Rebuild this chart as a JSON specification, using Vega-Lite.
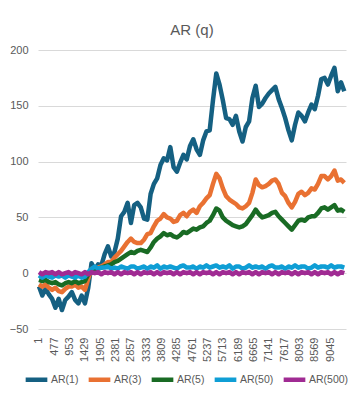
{
  "$schema": "https://vega.github.io/schema/vega-lite/v6.json",
  "autosize": "none",
  "width": 308,
  "height": 279,
  "padding": {"left": 38, "top": 50, "right": 14, "bottom": 72},
  "background": "white",
  "title": {"text": "AR (q)", "frame": "group", "anchor": "middle", "fontSize": 15, "font": "Liberation Sans", "fontWeight": "normal", "color": "#595959", "offset": 6},
  "data": {"values": [
    {"i":1,"AR(1)":-12,"AR(3)":-10,"AR(5)":-6,"AR(50)":-2,"AR(500)":1},
    {"i":103,"AR(1)":-20,"AR(3)":-12,"AR(5)":-7,"AR(50)":-4,"AR(500)":-1},
    {"i":205,"AR(1)":-14,"AR(3)":-10,"AR(5)":-6,"AR(50)":-2,"AR(500)":1},
    {"i":307,"AR(1)":-19,"AR(3)":-13,"AR(5)":-8,"AR(50)":-3,"AR(500)":0},
    {"i":409,"AR(1)":-23,"AR(3)":-15,"AR(5)":-9,"AR(50)":-4,"AR(500)":1},
    {"i":511,"AR(1)":-31,"AR(3)":-13,"AR(5)":-8,"AR(50)":-2,"AR(500)":-1},
    {"i":613,"AR(1)":-23,"AR(3)":-16,"AR(5)":-10,"AR(50)":-3,"AR(500)":1},
    {"i":715,"AR(1)":-33,"AR(3)":-17,"AR(5)":-11,"AR(50)":-2,"AR(500)":-1},
    {"i":817,"AR(1)":-24,"AR(3)":-14,"AR(5)":-9,"AR(50)":-4,"AR(500)":0},
    {"i":919,"AR(1)":-21,"AR(3)":-12,"AR(5)":-8,"AR(50)":-2,"AR(500)":1},
    {"i":1021,"AR(1)":-17,"AR(3)":-12,"AR(5)":-9,"AR(50)":-3,"AR(500)":-1},
    {"i":1123,"AR(1)":-24,"AR(3)":-10,"AR(5)":-7,"AR(50)":-4,"AR(500)":1},
    {"i":1225,"AR(1)":-27,"AR(3)":-13,"AR(5)":-9,"AR(50)":-2,"AR(500)":0},
    {"i":1327,"AR(1)":-20,"AR(3)":-12,"AR(5)":-8,"AR(50)":-4,"AR(500)":-1},
    {"i":1429,"AR(1)":-27,"AR(3)":-15,"AR(5)":-7,"AR(50)":-3,"AR(500)":1},
    {"i":1531,"AR(1)":-13,"AR(3)":-5,"AR(5)":-1,"AR(50)":1,"AR(500)":-1},
    {"i":1633,"AR(1)":9,"AR(3)":4,"AR(5)":2,"AR(50)":4,"AR(500)":1},
    {"i":1735,"AR(1)":3,"AR(3)":3,"AR(5)":3,"AR(50)":6,"AR(500)":0},
    {"i":1837,"AR(1)":8,"AR(3)":5,"AR(5)":4,"AR(50)":4,"AR(500)":1},
    {"i":1939,"AR(1)":7,"AR(3)":6,"AR(5)":5,"AR(50)":5,"AR(500)":-1},
    {"i":2041,"AR(1)":17,"AR(3)":8,"AR(5)":6,"AR(50)":5,"AR(500)":1},
    {"i":2143,"AR(1)":24,"AR(3)":10,"AR(5)":7,"AR(50)":6,"AR(500)":0},
    {"i":2245,"AR(1)":15,"AR(3)":10,"AR(5)":8,"AR(50)":4,"AR(500)":1},
    {"i":2347,"AR(1)":19,"AR(3)":14,"AR(5)":10,"AR(50)":5,"AR(500)":-1},
    {"i":2449,"AR(1)":31,"AR(3)":17,"AR(5)":11,"AR(50)":4,"AR(500)":1},
    {"i":2551,"AR(1)":51,"AR(3)":20,"AR(5)":13,"AR(50)":6,"AR(500)":-1},
    {"i":2653,"AR(1)":55,"AR(3)":24,"AR(5)":15,"AR(50)":5,"AR(500)":1},
    {"i":2755,"AR(1)":63,"AR(3)":28,"AR(5)":17,"AR(50)":4,"AR(500)":0},
    {"i":2857,"AR(1)":45,"AR(3)":31,"AR(5)":19,"AR(50)":6,"AR(500)":1},
    {"i":2959,"AR(1)":61,"AR(3)":28,"AR(5)":18,"AR(50)":6,"AR(500)":-1},
    {"i":3061,"AR(1)":63,"AR(3)":27,"AR(5)":20,"AR(50)":4,"AR(500)":1},
    {"i":3163,"AR(1)":59,"AR(3)":27,"AR(5)":21,"AR(50)":5,"AR(500)":-1},
    {"i":3265,"AR(1)":49,"AR(3)":30,"AR(5)":20,"AR(50)":6,"AR(500)":1},
    {"i":3367,"AR(1)":48,"AR(3)":35,"AR(5)":19,"AR(50)":4,"AR(500)":0},
    {"i":3469,"AR(1)":71,"AR(3)":36,"AR(5)":23,"AR(50)":6,"AR(500)":1},
    {"i":3571,"AR(1)":80,"AR(3)":42,"AR(5)":28,"AR(50)":5,"AR(500)":-1},
    {"i":3673,"AR(1)":85,"AR(3)":47,"AR(5)":31,"AR(50)":7,"AR(500)":1},
    {"i":3775,"AR(1)":97,"AR(3)":49,"AR(5)":33,"AR(50)":4,"AR(500)":-1},
    {"i":3877,"AR(1)":103,"AR(3)":53,"AR(5)":36,"AR(50)":6,"AR(500)":1},
    {"i":3979,"AR(1)":101,"AR(3)":50,"AR(5)":34,"AR(50)":5,"AR(500)":0},
    {"i":4081,"AR(1)":113,"AR(3)":49,"AR(5)":35,"AR(50)":6,"AR(500)":1},
    {"i":4183,"AR(1)":95,"AR(3)":46,"AR(5)":33,"AR(50)":5,"AR(500)":-1},
    {"i":4285,"AR(1)":91,"AR(3)":47,"AR(5)":32,"AR(50)":4,"AR(500)":1},
    {"i":4387,"AR(1)":99,"AR(3)":52,"AR(5)":34,"AR(50)":6,"AR(500)":-1},
    {"i":4489,"AR(1)":106,"AR(3)":54,"AR(5)":37,"AR(50)":7,"AR(500)":1},
    {"i":4591,"AR(1)":102,"AR(3)":51,"AR(5)":36,"AR(50)":5,"AR(500)":0},
    {"i":4693,"AR(1)":114,"AR(3)":55,"AR(5)":38,"AR(50)":5,"AR(500)":1},
    {"i":4795,"AR(1)":120,"AR(3)":57,"AR(5)":40,"AR(50)":6,"AR(500)":-1},
    {"i":4897,"AR(1)":111,"AR(3)":54,"AR(5)":39,"AR(50)":4,"AR(500)":1},
    {"i":4999,"AR(1)":106,"AR(3)":60,"AR(5)":41,"AR(50)":6,"AR(500)":-1},
    {"i":5101,"AR(1)":119,"AR(3)":63,"AR(5)":42,"AR(50)":5,"AR(500)":1},
    {"i":5203,"AR(1)":127,"AR(3)":67,"AR(5)":45,"AR(50)":7,"AR(500)":0},
    {"i":5305,"AR(1)":128,"AR(3)":70,"AR(5)":47,"AR(50)":5,"AR(500)":1},
    {"i":5407,"AR(1)":155,"AR(3)":80,"AR(5)":52,"AR(50)":6,"AR(500)":-1},
    {"i":5509,"AR(1)":179,"AR(3)":89,"AR(5)":58,"AR(50)":7,"AR(500)":1},
    {"i":5611,"AR(1)":169,"AR(3)":85,"AR(5)":56,"AR(50)":5,"AR(500)":-1},
    {"i":5713,"AR(1)":155,"AR(3)":76,"AR(5)":50,"AR(50)":6,"AR(500)":1},
    {"i":5815,"AR(1)":139,"AR(3)":69,"AR(5)":47,"AR(50)":5,"AR(500)":0},
    {"i":5917,"AR(1)":138,"AR(3)":66,"AR(5)":45,"AR(50)":7,"AR(500)":1},
    {"i":6019,"AR(1)":133,"AR(3)":64,"AR(5)":43,"AR(50)":4,"AR(500)":-1},
    {"i":6121,"AR(1)":141,"AR(3)":62,"AR(5)":42,"AR(50)":6,"AR(500)":1},
    {"i":6223,"AR(1)":127,"AR(3)":59,"AR(5)":41,"AR(50)":6,"AR(500)":-1},
    {"i":6325,"AR(1)":118,"AR(3)":58,"AR(5)":42,"AR(50)":4,"AR(500)":1},
    {"i":6427,"AR(1)":131,"AR(3)":60,"AR(5)":44,"AR(50)":5,"AR(500)":0},
    {"i":6529,"AR(1)":136,"AR(3)":63,"AR(5)":48,"AR(50)":7,"AR(500)":1},
    {"i":6631,"AR(1)":157,"AR(3)":72,"AR(5)":52,"AR(50)":5,"AR(500)":-1},
    {"i":6733,"AR(1)":168,"AR(3)":84,"AR(5)":57,"AR(50)":6,"AR(500)":1},
    {"i":6835,"AR(1)":149,"AR(3)":79,"AR(5)":53,"AR(50)":5,"AR(500)":-1},
    {"i":6937,"AR(1)":152,"AR(3)":77,"AR(5)":50,"AR(50)":6,"AR(500)":1},
    {"i":7039,"AR(1)":157,"AR(3)":78,"AR(5)":51,"AR(50)":4,"AR(500)":0},
    {"i":7141,"AR(1)":161,"AR(3)":80,"AR(5)":52,"AR(50)":6,"AR(500)":1},
    {"i":7243,"AR(1)":164,"AR(3)":83,"AR(5)":54,"AR(50)":7,"AR(500)":-1},
    {"i":7345,"AR(1)":167,"AR(3)":84,"AR(5)":55,"AR(50)":5,"AR(500)":1},
    {"i":7447,"AR(1)":156,"AR(3)":80,"AR(5)":51,"AR(50)":5,"AR(500)":-1},
    {"i":7549,"AR(1)":148,"AR(3)":72,"AR(5)":48,"AR(50)":6,"AR(500)":1},
    {"i":7651,"AR(1)":139,"AR(3)":69,"AR(5)":45,"AR(50)":4,"AR(500)":0},
    {"i":7753,"AR(1)":128,"AR(3)":63,"AR(5)":42,"AR(50)":6,"AR(500)":1},
    {"i":7855,"AR(1)":119,"AR(3)":59,"AR(5)":39,"AR(50)":5,"AR(500)":-1},
    {"i":7957,"AR(1)":133,"AR(3)":64,"AR(5)":43,"AR(50)":7,"AR(500)":1},
    {"i":8059,"AR(1)":144,"AR(3)":71,"AR(5)":47,"AR(50)":5,"AR(500)":-1},
    {"i":8161,"AR(1)":141,"AR(3)":73,"AR(5)":48,"AR(50)":6,"AR(500)":1},
    {"i":8263,"AR(1)":136,"AR(3)":70,"AR(5)":47,"AR(50)":6,"AR(500)":0},
    {"i":8365,"AR(1)":144,"AR(3)":72,"AR(5)":50,"AR(50)":4,"AR(500)":1},
    {"i":8467,"AR(1)":151,"AR(3)":76,"AR(5)":51,"AR(50)":5,"AR(500)":-1},
    {"i":8569,"AR(1)":147,"AR(3)":75,"AR(5)":51,"AR(50)":7,"AR(500)":1},
    {"i":8671,"AR(1)":159,"AR(3)":80,"AR(5)":54,"AR(50)":5,"AR(500)":-1},
    {"i":8773,"AR(1)":174,"AR(3)":87,"AR(5)":58,"AR(50)":6,"AR(500)":1},
    {"i":8875,"AR(1)":175,"AR(3)":87,"AR(5)":59,"AR(50)":6,"AR(500)":0},
    {"i":8977,"AR(1)":169,"AR(3)":84,"AR(5)":57,"AR(50)":5,"AR(500)":1},
    {"i":9079,"AR(1)":177,"AR(3)":87,"AR(5)":59,"AR(50)":7,"AR(500)":-1},
    {"i":9181,"AR(1)":184,"AR(3)":92,"AR(5)":61,"AR(50)":5,"AR(500)":1},
    {"i":9283,"AR(1)":163,"AR(3)":83,"AR(5)":56,"AR(50)":6,"AR(500)":-1},
    {"i":9385,"AR(1)":171,"AR(3)":84,"AR(5)":57,"AR(50)":6,"AR(500)":1},
    {"i":9487,"AR(1)":163,"AR(3)":81,"AR(5)":55,"AR(50)":5,"AR(500)":0}
  ]},
  "transform": [
    {"fold": ["AR(1)", "AR(3)", "AR(5)", "AR(50)", "AR(500)"], "as": ["series", "v"]}
  ],
  "mark": {"type": "line", "strokeJoin": "round", "strokeCap": "butt"},
  "encoding": {
    "x": {
      "field": "i", "type": "quantitative",
      "scale": {"domain": [-30, 9540], "nice": false, "zero": false},
      "axis": {
        "title": null, "grid": false, "ticks": false, "domain": false, "format": "d",
        "values": [1, 477, 953, 1429, 1905, 2381, 2857, 3333, 3809, 4285, 4761, 5237, 5713, 6189, 6665, 7141, 7617, 8093, 8569, 9045],
        "labelAngle": -90, "labelPadding": 8, "labelFontSize": 11, "labelFont": "Liberation Sans", "labelColor": "#595959",
        "labelOverlap": false, "labelFlush": false
      }
    },
    "y": {
      "field": "v", "type": "quantitative",
      "scale": {"domain": [-50, 200], "nice": false},
      "axis": {
        "title": null, "ticks": false, "domain": false,
        "values": [-50, 0, 50, 100, 150, 200],
        "gridColor": "#d9d9d9", "gridWidth": 1,
        "labelPadding": 10, "labelFontSize": 11, "labelFont": "Liberation Sans", "labelColor": "#595959"
      }
    },
    "strokeWidth": {
      "field": "series", "type": "nominal",
      "scale": {"domain": ["AR(1)", "AR(3)", "AR(5)", "AR(50)", "AR(500)"], "range": [4.5, 4.5, 4.5, 5.5, 7]},
      "legend": null
    },
    "color": {
      "field": "series", "type": "nominal",
      "scale": {"domain": ["AR(1)", "AR(3)", "AR(5)", "AR(50)", "AR(500)"], "range": ["#156082", "#E97132", "#196B24", "#0F9ED5", "#A02B93"]},
      "legend": {
        "title": null, "orient": "none", "direction": "horizontal", "legendX": -15, "legendY": 316,
        "symbolType": "stroke", "symbolStrokeWidth": 3.5, "symbolSize": 470,
        "labelFontSize": 10.5, "labelFont": "Liberation Sans", "labelColor": "#595959",
        "labelOffset": 1, "columnPadding": 0
      }
    }
  },
  "config": {"view": {"stroke": null}}
}
